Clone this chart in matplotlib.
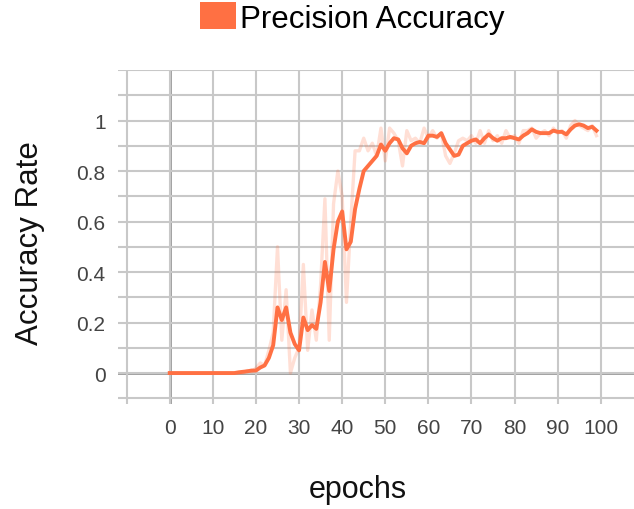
import numpy as np
import matplotlib
matplotlib.use("Agg")
import matplotlib.pyplot as plt
from matplotlib.patches import Patch

plt.rcParams['font.family'] = ['Liberation Sans', 'DejaVu Sans']

epochs = list(range(100))

# smoothed precision accuracy per epoch
smoothed = [
    0, 0, 0, 0, 0, 0, 0, 0, 0, 0,
    0, 0, 0, 0, 0, 0, 0.003, 0.005, 0.007, 0.01,
    0.01, 0.022, 0.03, 0.06, 0.11, 0.26, 0.21, 0.26, 0.16, 0.115,
    0.09, 0.22, 0.17, 0.19, 0.175, 0.28, 0.44, 0.325, 0.49, 0.60,
    0.64, 0.49, 0.52, 0.65, 0.73, 0.80, 0.82, 0.84, 0.86, 0.905,
    0.88, 0.91, 0.93, 0.925, 0.89, 0.87, 0.90, 0.91, 0.915, 0.91,
    0.94, 0.94, 0.935, 0.95, 0.91, 0.885, 0.86, 0.865, 0.90, 0.91,
    0.92, 0.925, 0.91, 0.93, 0.945, 0.93, 0.92, 0.93, 0.93, 0.935,
    0.93, 0.925, 0.94, 0.95, 0.965, 0.955, 0.95, 0.95, 0.95, 0.96,
    0.955, 0.955, 0.945, 0.965, 0.98, 0.985, 0.98, 0.97, 0.975, 0.96,
]

# raw precision accuracy per epoch
raw = [
    0, 0, 0, 0, 0, 0, 0, 0, 0, 0,
    0, 0, 0, 0, 0, 0, 0, 0, 0.01, 0.005,
    0.02, 0.04, 0.03, 0.09, 0.16, 0.50, 0.13, 0.33, 0.0, 0.06,
    0.10, 0.43, 0.09, 0.25, 0.13, 0.35, 0.69, 0.13, 0.67, 0.80,
    0.70, 0.28, 0.60, 0.88, 0.88, 0.93, 0.88, 0.91, 0.86, 0.97,
    0.84, 0.97, 0.95, 0.92, 0.82, 0.96, 0.92, 0.93, 0.91, 0.97,
    0.93, 0.96, 0.93, 0.95, 0.86, 0.83, 0.87, 0.92, 0.93, 0.92,
    0.94, 0.91, 0.96, 0.91, 0.96, 0.92, 0.94, 0.91, 0.96, 0.93,
    0.94, 0.91, 0.96, 0.96, 0.97, 0.93, 0.95, 0.96, 0.94, 0.97,
    0.95, 0.96, 0.93, 0.98, 1.0, 0.98, 0.97, 0.96, 0.98, 0.94,
]

series_name = "Precision Accuracy"
x_label = "epochs"
y_label = "Accuracy Rate"
x_ticks = list(range(0, 101, 10))
y_ticks = [0, 0.2, 0.4, 0.6, 0.8, 1.0]
y_tick_labels = ["0", "0.2", "0.4", "0.6", "0.8", "1"]

color = "#ff7043"

fig = plt.figure(figsize=(6.34, 5.10), dpi=100)
ax = fig.add_axes([118 / 634, 1 - 405 / 510, 516 / 634, (405 - 71) / 510])

ax.set_xlim(-12, 107.7)
ax.set_ylim(-0.1225, 1.2)

ax.set_xticks(x_ticks)
ax.set_xticks([-10], minor=True)
ax.set_yticks(y_ticks)
ax.set_yticklabels(y_tick_labels)
ax.set_yticks(np.round(np.arange(-0.1, 1.21, 0.1), 2), minor=True)

ax.grid(True, which="both", color="#c8c8c8", linewidth=1.5, zorder=0)
ax.axvline(0, color="#858585", linewidth=1.8, zorder=1)
ax.axhline(0, color="#858585", linewidth=1.8, zorder=1)

for s in ax.spines.values():
    s.set_visible(False)
ax.tick_params(which="both", length=0)
ax.tick_params(axis="both", labelsize=15, labelcolor="#444444")
ax.tick_params(axis="x", pad=10)
ax.tick_params(axis="y", pad=9)

ax.plot(epochs, raw, color=color, alpha=0.22, linewidth=2.4, zorder=2)
ax.plot(epochs, smoothed, color=color, linewidth=2.8, zorder=3)

fig.text(30 / 634, 1 - 243 / 510, y_label, rotation=90, ha="center", va="center",
         fontsize=22.5, color="#111111")
fig.text(358 / 634, 1 - 490 / 510, x_label, ha="center", va="center",
         fontsize=22, color="#111111")

fig.legend(handles=[Patch(facecolor=color, edgecolor="none", label=series_name)],
           loc="center", bbox_to_anchor=(352 / 634, 1 - 19 / 510), frameon=False,
           fontsize=22.5, handlelength=1.15, handleheight=0.95, handletextpad=0.12,
           borderpad=0)

fig.savefig("out.png", dpi=100)
